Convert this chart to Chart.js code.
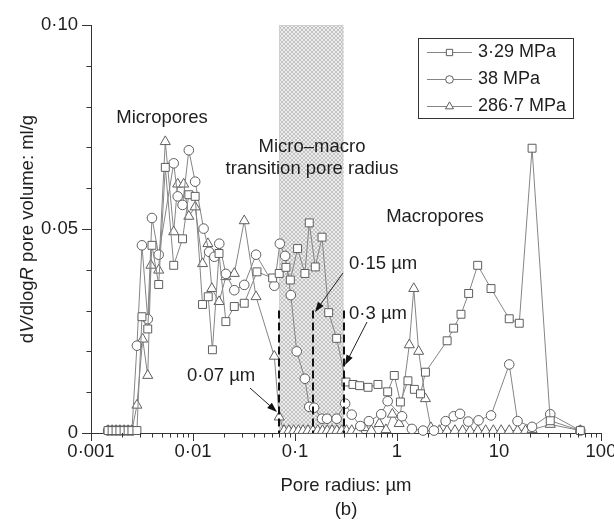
<!DOCTYPE html>
<html>
<head>
<meta charset="utf-8">
<title>Pore size distribution</title>
<style>
  html, body { margin: 0; padding: 0; background: #fff; }
  #wrap { width: 614px; height: 523px; }
</style>
<script src="https://cdn.jsdelivr.net/npm/chart.js@4.4.1/dist/chart.umd.min.js"></script>
</head>
<body>
<div id="wrap"><canvas id="chart" width="614" height="523"></canvas></div>
<script>
// pore radius (um) and dV/dlogR (ml/g)
const radius329 = [0.00147, 0.00161, 0.00176, 0.00192, 0.00211, 0.00231, 0.00252, 0.00282, 0.00316, 0.0036,
  0.00396, 0.00461, 0.00535, 0.00647, 0.0079, 0.0091, 0.0105, 0.0124, 0.0141, 0.0155,
  0.018, 0.021, 0.0254, 0.0318, 0.0424, 0.0604, 0.070, 0.0815, 0.090, 0.106,
  0.125, 0.138, 0.158, 0.184, 0.214, 0.256, 0.316, 0.37, 0.43, 0.52,
  0.65, 0.81, 0.94, 1.08, 1.28, 1.48, 1.7, 1.9, 3.1, 3.59,
  4.24, 5.04, 6.18, 8.35, 12.6, 15.8, 21.1, 31.8, 62.7];
const volume329 = [0.0006, 0.0006, 0.0006, 0.0006, 0.0006, 0.0006, 0.0006, 0.0006, 0.0285, 0.0255,
  0.046, 0.0364, 0.0651, 0.0411, 0.0476, 0.0584, 0.058, 0.0315, 0.0334, 0.0204,
  0.044, 0.0273, 0.031, 0.0318, 0.0395, 0.038, 0.0391, 0.0406, 0.0375, 0.0452,
  0.0391, 0.0515, 0.0407, 0.048, 0.0295, 0.0232, 0.0125, 0.0119, 0.0116, 0.0112,
  0.0119, 0.0101, 0.0141, 0.0076, 0.0128, 0.0107, 0.0096, 0.0149, 0.0226, 0.0257,
  0.0291, 0.0342, 0.0411, 0.0354, 0.028, 0.0269, 0.0698, 0.003, 0.0006];

const radius38 = [0.00147, 0.00161, 0.00176, 0.00192, 0.00211, 0.00231, 0.00252, 0.00282, 0.00316, 0.0036,
  0.00396, 0.00461, 0.00647, 0.00708, 0.0079, 0.0091, 0.0105, 0.0127, 0.0144, 0.0162,
  0.0181, 0.021, 0.0254, 0.0318, 0.0415, 0.0627, 0.071, 0.08, 0.091, 0.104,
  0.125, 0.138, 0.154, 0.184, 0.206, 0.256, 0.31, 0.36, 0.437, 0.53,
  0.70, 0.81, 1.12, 1.4, 1.8, 2.3, 3.0, 3.6, 4.15, 5.0,
  6.3, 8.35, 12.6, 15.2, 21.1, 31.8, 62.7];
const volume38 = [0.0006, 0.0006, 0.0006, 0.0006, 0.0006, 0.0006, 0.0006, 0.0214, 0.046, 0.0279,
  0.0527, 0.0437, 0.0661, 0.058, 0.0559, 0.0693, 0.0616, 0.0501, 0.0444, 0.0432,
  0.0464, 0.039, 0.035, 0.0363, 0.0437, 0.0361, 0.0464, 0.0434, 0.0338, 0.020,
  0.0133, 0.0064, 0.0062, 0.0035, 0.0035, 0.0035, 0.0072, 0.0045, 0.0017, 0.0029,
  0.0046, 0.0078, 0.0041, 0.001, 0.0006, 0.0006, 0.0029, 0.0041, 0.0047, 0.0028,
  0.0031, 0.0043, 0.0168, 0.0029, 0.0015, 0.0046, 0.0006];

const radius287 = [0.00147, 0.00161, 0.00176, 0.00192, 0.00211, 0.00231, 0.00252, 0.00282, 0.00321, 0.0036,
  0.00387, 0.00461, 0.00535, 0.00647, 0.00708, 0.0081, 0.0091, 0.0105, 0.0124, 0.014,
  0.0153, 0.018, 0.021, 0.0254, 0.0318, 0.0415, 0.0627, 0.070, 0.078, 0.087,
  0.097, 0.108, 0.12, 0.134, 0.15, 0.167, 0.186, 0.207, 0.231, 0.257,
  0.287, 0.32, 0.36, 0.41, 0.48, 0.56, 0.67, 0.78, 0.9, 1.05,
  1.32, 1.46, 1.63, 1.9, 2.15, 2.6, 3.1, 3.7, 4.4, 5.2,
  6.2, 7.4, 8.8, 10.5, 12.6, 15.2, 18.2, 21.1, 31.8, 62.7];
const volume287 = [0.0006, 0.0006, 0.0006, 0.0006, 0.0006, 0.0006, 0.0006, 0.0068, 0.023, 0.0141,
  0.0411, 0.0399, 0.0714, 0.0493, 0.061, 0.061, 0.0531, 0.0554, 0.0415, 0.0464,
  0.0354, 0.0322, 0.0383, 0.0391, 0.052, 0.0334, 0.0188, 0.0039, 0.0006, 0.0006,
  0.0006, 0.0006, 0.0006, 0.0006, 0.0006, 0.0006, 0.0006, 0.0006, 0.0006, 0.0006,
  0.0006, 0.0006, 0.0006, 0.0006, 0.0013, 0.0006, 0.0023, 0.0008, 0.0046, 0.0023,
  0.0216, 0.0354, 0.020, 0.0084, 0.0013, 0.0006, 0.0006, 0.0006, 0.0006, 0.0006,
  0.0006, 0.0006, 0.0006, 0.0006, 0.0006, 0.0006, 0.0006, 0.0008, 0.0021, 0.0006];

const seriesNames = ['3·29 MPa', '38 MPa', '286·7 MPa'];
const xTickValues = [0.001, 0.01, 0.1, 1, 10, 100];
const xTickLabels = ['0·001', '0·01', '0·1', '1', '10', '100'];
const yTickValues = [0, 0.05, 0.1];
const yTickLabels = ['0', '0·05', '0·10'];
const transitionZone = [0.07, 0.3];
const boundaryRadii = [0.07, 0.15, 0.3];
const boundaryTop = 0.03;

const FONT = '"Liberation Sans", Arial, Helvetica, sans-serif';
const TEXT = '#1e1e1e';
const LINE = '#858585';
const MARK = '#5e5e5e';
const styles = [
  { pointStyle: 'rect', radius: 5.6 },
  { pointStyle: 'circle', radius: 4.8 },
  { pointStyle: 'triangle', radius: 5.8 }
];

function pairs(xs, ys) {
  return xs.map((x, i) => ({ x: x, y: ys[i] }));
}

function tickLabel(values, labels, v) {
  for (let i = 0; i < values.length; i++) {
    if (Math.abs(values[i] - v) < values[i] * 1e-6 + 1e-12) return labels[i];
  }
  return '';
}

// crosshatch for the transition band
const hatch = document.createElement('canvas');
hatch.width = 4; hatch.height = 4;
(function () {
  const g = hatch.getContext('2d');
  g.fillStyle = '#ededed';
  g.fillRect(0, 0, 4, 4);
  g.fillStyle = '#c2c2c2';
  for (let i = 0; i < 4; i++) {
    g.fillRect(i, i, 1, 1);
    g.fillRect(3 - i, i, 1, 1);
  }
})();

function arrow(ctx, x0, y0, x1, y1) {
  const a = Math.atan2(y1 - y0, x1 - x0);
  const len = 10, hw = 3.5;
  ctx.beginPath();
  ctx.moveTo(x0, y0);
  ctx.lineTo(x1 - Math.cos(a) * len * 0.8, y1 - Math.sin(a) * len * 0.8);
  ctx.stroke();
  ctx.beginPath();
  ctx.moveTo(x1, y1);
  ctx.lineTo(x1 - Math.cos(a) * len + Math.sin(a) * hw, y1 - Math.sin(a) * len - Math.cos(a) * hw);
  ctx.lineTo(x1 - Math.cos(a) * len - Math.sin(a) * hw, y1 - Math.sin(a) * len + Math.cos(a) * hw);
  ctx.closePath();
  ctx.fill();
}

const notes = [
  { text: 'Micropores', x: 162, y: 118, align: 'center' },
  { text: 'Micro–macro', x: 312, y: 147, align: 'center' },
  { text: 'transition pore radius', x: 312, y: 169, align: 'center' },
  { text: 'Macropores', x: 435, y: 217, align: 'center' },
  { text: '0·15 µm', x: 349, y: 264, align: 'left' },
  { text: '0·3 µm', x: 349, y: 314, align: 'left' },
  { text: '0·07 µm', x: 187, y: 376, align: 'left' }
];
const arrows = [[250, 388, 277, 412], [343, 273, 315, 312], [367, 322, 345, 365]];

const decorations = {
  id: 'decorations',
  beforeDatasetsDraw(chart) {
    const { ctx, chartArea, scales } = chart;
    const x0 = scales.x.getPixelForValue(transitionZone[0]);
    const x1 = scales.x.getPixelForValue(transitionZone[1]);
    ctx.save();
    ctx.fillStyle = ctx.createPattern(hatch, 'repeat');
    ctx.fillRect(x0, chartArea.top, x1 - x0, chartArea.bottom - chartArea.top - 1);
    ctx.strokeStyle = '#cfcfcf';
    ctx.lineWidth = 1;
    ctx.strokeRect(Math.round(x0) + 0.5, chartArea.top + 0.5, Math.round(x1 - x0) - 1, chartArea.bottom - chartArea.top - 2);
    ctx.restore();
  },
  afterDatasetsDraw(chart) {
    const { ctx, chartArea, scales } = chart;
    ctx.save();
    // boundary radii
    ctx.strokeStyle = '#111';
    ctx.lineWidth = 2;
    ctx.setLineDash([8, 4]);
    boundaryRadii.forEach(r => {
      const px = Math.round(scales.x.getPixelForValue(r));
      ctx.beginPath();
      ctx.moveTo(px, scales.y.getPixelForValue(boundaryTop));
      ctx.lineTo(px, chartArea.bottom);
      ctx.stroke();
    });
    ctx.setLineDash([]);
    ctx.lineWidth = 1;
    ctx.strokeStyle = '#222';
    ctx.fillStyle = '#111';
    arrows.forEach(a => arrow(ctx, a[0], a[1], a[2], a[3]));

    ctx.fillStyle = TEXT;
    ctx.font = '18.5px ' + FONT;
    ctx.textBaseline = 'middle';
    notes.forEach(n => {
      ctx.textAlign = n.align;
      ctx.fillText(n.text, n.x, n.y);
    });

    // legend
    const bx = 418.5, by = 38.5, bw = 155, bh = 80;
    const rows = [52, 79, 106];
    ctx.fillStyle = '#fff';
    ctx.fillRect(bx, by, bw, bh);
    ctx.strokeStyle = '#333';
    ctx.strokeRect(bx, by, bw, bh);
    seriesNames.forEach((name, i) => {
      const yy = rows[i];
      ctx.strokeStyle = LINE;
      ctx.beginPath();
      ctx.moveTo(427, yy + 0.5);
      ctx.lineTo(472, yy + 0.5);
      ctx.stroke();
      ctx.fillStyle = '#fff';
      ctx.strokeStyle = MARK;
      Chart.helpers.drawPoint(ctx, { pointStyle: styles[i].pointStyle, radius: styles[i].radius * 0.8, borderWidth: 1, rotation: 0 }, 449.5, yy + 0.5);
      ctx.fillStyle = TEXT;
      ctx.textAlign = 'left';
      ctx.font = '18px ' + FONT;
      ctx.fillText(name, 478, yy);
    });
    ctx.restore();
  },
  afterDraw(chart) {
    const { ctx, chartArea, scales } = chart;
    ctx.save();
    ctx.strokeStyle = '#333';
    ctx.lineWidth = 1;
    // minor ticks on the log axis
    for (let d = 0.001; d < 99; d *= 10) {
      for (let k = 2; k <= 9; k++) {
        const px = Math.round(scales.x.getPixelForValue(d * k)) + 0.5;
        ctx.beginPath();
        ctx.moveTo(px, chartArea.bottom);
        ctx.lineTo(px, chartArea.bottom + 4.5);
        ctx.stroke();
      }
    }
    // minor ticks on the value axis
    for (let k = 1; k < 10; k++) {
      if (k === 5) continue;
      const py = Math.round(scales.y.getPixelForValue(k / 100)) + 0.5;
      ctx.beginPath();
      ctx.moveTo(chartArea.left - 4.5, py);
      ctx.lineTo(chartArea.left, py);
      ctx.stroke();
    }
    // y title with italic V and R
    const parts = [['d', false], ['V', true], ['/dlog', false], ['R', true], [' pore volume: ml/g', false]];
    ctx.translate(28, (chartArea.top + chartArea.bottom) / 2);
    ctx.rotate(-Math.PI / 2);
    ctx.textBaseline = 'middle';
    ctx.textAlign = 'left';
    ctx.fillStyle = TEXT;
    let total = 0;
    const widths = parts.map(p => {
      ctx.font = (p[1] ? 'italic ' : '') + '18.5px ' + FONT;
      const w = ctx.measureText(p[0]).width;
      total += w;
      return w;
    });
    let x = -total / 2;
    parts.forEach((p, i) => {
      ctx.font = (p[1] ? 'italic ' : '') + '18.5px ' + FONT;
      ctx.fillText(p[0], x, 0);
      x += widths[i];
    });
    ctx.restore();
  }
};

const datasets = [
  pairs(radius329, volume329),
  pairs(radius38, volume38),
  pairs(radius287, volume287)
].map((data, i) => ({
  label: seriesNames[i],
  data: data,
  showLine: true,
  borderColor: LINE,
  borderWidth: 1,
  tension: 0,
  pointStyle: styles[i].pointStyle,
  pointRadius: styles[i].radius,
  pointBackgroundColor: '#fff',
  pointBorderColor: MARK,
  pointBorderWidth: 1,
  clip: false
}));

new Chart(document.getElementById('chart'), {
  type: 'scatter',
  data: { datasets: datasets },
  options: {
    responsive: false,
    animation: false,
    devicePixelRatio: 1,
    layout: { padding: { left: 0, top: 25, right: 13, bottom: 0 } },
    plugins: { legend: { display: false }, tooltip: { enabled: false } },
    scales: {
      x: {
        type: 'logarithmic',
        position: 'bottom',
        min: 0.001,
        max: 100,
        afterBuildTicks: s => { s.ticks = xTickValues.map(v => ({ value: v })); },
        afterFit: s => { s.height = 90; s.paddingLeft = 0; s.paddingRight = 0; },
        ticks: {
          autoSkip: false,
          maxRotation: 0,
          padding: 0,
          color: TEXT,
          font: { family: FONT, size: 18.5 },
          callback: v => tickLabel(xTickValues, xTickLabels, v)
        },
        grid: { drawOnChartArea: false, tickLength: 8, color: '#333' },
        border: { color: '#333', width: 1 },
        title: {
          display: true,
          text: ['Pore radius: µm', '(b)'],
          color: TEXT,
          font: { family: FONT, size: 18.5, lineHeight: 1.25 },
          padding: { top: 0, bottom: 2 }
        }
      },
      y: {
        min: 0,
        max: 0.1,
        afterBuildTicks: s => { s.ticks = yTickValues.map(v => ({ value: v })); },
        afterFit: s => { s.width = 91; s.paddingTop = 0; s.paddingBottom = 0; },
        ticks: {
          padding: 4,
          color: TEXT,
          font: { family: FONT, size: 18.5 },
          callback: v => tickLabel(yTickValues, yTickLabels, v)
        },
        grid: { drawOnChartArea: false, tickLength: 9, color: '#333' },
        border: { color: '#333', width: 1 }
      }
    }
  },
  plugins: [decorations]
});
</script>
</body>
</html>
